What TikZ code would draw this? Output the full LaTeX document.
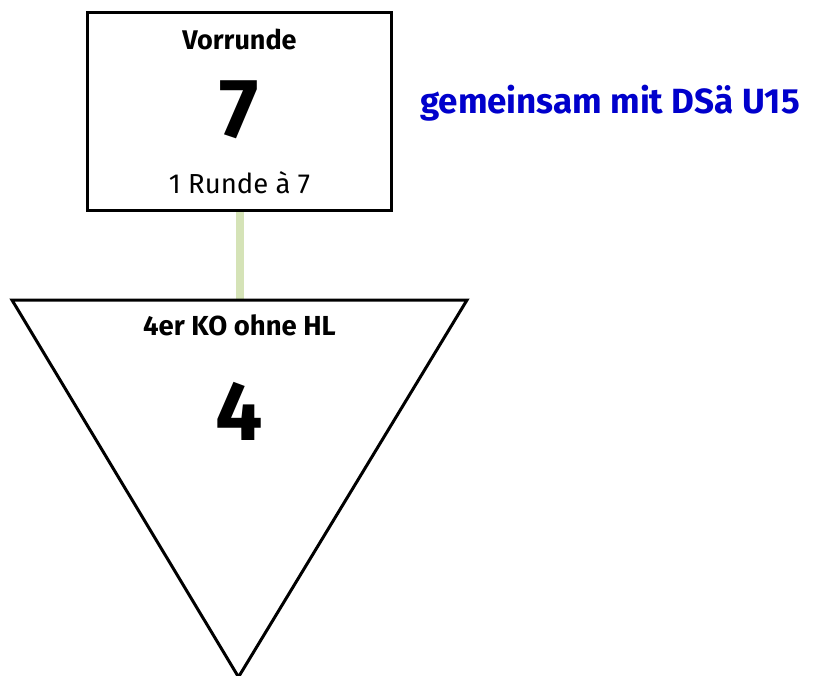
\documentclass[tikz,border=0pt]{standalone}
\usepackage{fontspec}
\setmainfont{Fira Sans}
\begin{document}
\begin{tikzpicture}[x=1pt,y=-1pt,
  shapeline/.style={draw=black,line width=3pt,fill=white},
  link/.style={draw=linkgreen,line width=8pt},
  lbl/.style={inner sep=0pt,anchor=base},
  bigdigit/.style={inner sep=0pt,anchor=base,font=\fontsize{84}{84}\selectfont\bfseries}]
\definecolor{linkgreen}{HTML}{D5E3B7}
\definecolor{noteblue}{HTML}{0000CC}
\useasboundingbox (0,0) rectangle (813,675);
\coordinate (boxbot) at (239.5,210);
\coordinate (tritop) at (239.5,300);
\draw[link] (boxbot) -- (tritop);
\draw[shapeline] (87.5,12.5) rectangle (391.5,210);
\path[shapeline] (12,300) -- (467,300) -- (238.5,677) -- cycle;
\node[lbl,font=\fontsize{27}{27}\selectfont\bfseries] (vr) at (239.5,49) {Vorrunde};
\node[bigdigit] (seven) at (239.5,137) {7};
\node[lbl,font=\fontsize{27.5}{27.5}\selectfont] (runde) at (239.5,193) {1 Runde à 7};
\node[lbl,font=\fontsize{35}{35}\selectfont\bfseries,text=noteblue] (note) at (610,113) {gemeinsam mit DSä U15};
\node[lbl,font=\fontsize{27.5}{27.5}\selectfont\bfseries] (ko) at (239.5,335) {4er KO ohne HL};
\node[bigdigit] (four) at (239.5,440) {4};
\end{tikzpicture}
\end{document}
